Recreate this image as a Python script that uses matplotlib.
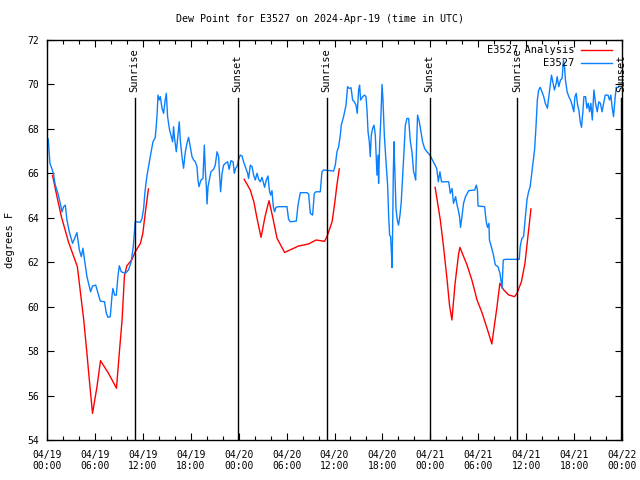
import numpy as np
import matplotlib
matplotlib.use("Agg")
import matplotlib.pyplot as plt
import matplotlib.dates as mdates

plt.rcParams['font.family'] = ['DejaVu Sans Mono']
plt.rcParams['font.size'] = 7

start = np.datetime64('2024-04-19T00:00')

# station observations (hours since start, degrees F)
obs_hours = [0.15, 0.37, 0.62, 0.79, 1.04, 1.37, 1.66, 1.88, 2.08, 2.29, 2.5, 2.79, 3.2, 3.54, 3.75,
             4.05, 4.3, 4.5, 4.7, 5.0, 5.3, 5.46, 5.7, 6.1, 6.67, 7.2, 7.43, 7.63, 7.92, 8.13, 8.25,
             8.47, 8.68, 8.88, 9.05, 9.3, 9.8, 10.2, 10.55, 10.8, 10.93, 11.05, 11.68, 11.9, 12.1,
             12.27, 12.5, 12.93, 13.27, 13.56, 13.77, 13.9, 14.06, 14.19, 14.4, 14.6, 14.8, 14.94,
             15.1, 15.35, 15.56, 15.73, 15.85, 15.97, 16.19, 16.4, 16.56, 16.69, 16.9, 17.1, 17.32,
             17.53, 17.73, 17.94, 18.16, 18.36, 18.57, 18.78, 18.9, 19.03, 19.28, 19.53, 19.7, 19.82,
             19.95, 20.04, 20.16, 20.36, 20.53, 20.86, 21.07, 21.29, 21.49, 21.62, 21.74, 21.92,
             22.11, 22.33, 22.62, 22.8, 23.04, 23.3, 23.46, 23.62, 23.79, 24.04, 24.2, 24.42, 24.62,
             24.83, 25.12, 25.24, 25.46, 25.67, 25.87, 26.08, 26.3, 26.5, 26.71, 26.92, 27.25, 27.46,
             27.67, 27.84, 28.0, 28.17, 28.34, 28.5, 28.67, 29.0, 30.05, 30.25, 30.47, 31.22, 31.43,
             31.72, 32.55, 32.76, 32.97, 33.26, 33.47, 33.68, 34.22, 34.43, 34.64, 35.48, 35.89,
             36.1, 36.31, 36.52, 36.73, 36.85, 37.14, 37.44, 37.64, 37.85, 38.07, 38.27, 38.48,
             38.69, 38.85, 39.02, 39.14, 39.27, 39.52, 39.77, 39.94, 40.07, 40.2, 40.36, 40.48,
             40.61, 40.77, 40.95, 41.11, 41.32, 41.45, 41.52, 41.65, 41.82, 41.95, 42.07, 42.24,
             42.45, 42.65, 42.78, 42.9, 43.03, 43.15, 43.2, 43.27, 43.36, 43.45, 43.52, 43.7, 43.86,
             44.02, 44.2, 44.36, 44.52, 44.7, 44.87, 45.07, 45.28, 45.5, 45.7, 45.9, 46.03, 46.16,
             46.28, 46.4, 46.62, 46.83, 47.03, 47.28, 47.58, 47.95, 48.38, 48.8, 49.0, 49.2, 49.4,
             49.6, 50.3, 50.5, 50.72, 50.9, 51.17, 51.3, 51.5, 51.66, 51.78, 51.96, 52.16, 52.4,
             52.8, 53.55, 53.76, 53.9, 53.97, 54.8, 55.0, 55.16, 55.34, 55.4, 55.64, 55.9, 56.14,
             56.47, 56.72, 56.98, 57.13, 57.38, 59.13, 59.25, 59.46, 59.67, 59.85, 60.1, 60.3, 60.5,
             60.65, 60.8, 61.05, 61.23, 61.4, 61.56, 61.77, 61.98, 62.2, 62.4, 62.66, 62.83, 63.04,
             63.17, 63.33, 63.54, 63.76, 63.88, 64.08, 64.3, 64.5, 64.67, 64.8, 64.92, 65.13, 65.34,
             65.55, 65.76, 65.97, 66.1, 66.27, 66.44, 66.6, 66.77, 66.93, 67.1, 67.23, 67.44, 67.6,
             67.77, 67.94, 68.1, 68.28, 68.48, 68.69, 68.9, 69.1, 69.3, 69.5, 69.7, 69.9, 70.24,
             70.44, 70.6, 70.78, 70.94, 71.15, 71.28, 71.57]
obs_vals = [67.55, 66.45, 66.2, 66.0, 65.47, 65.1, 64.65, 64.27, 64.5, 64.57, 63.9, 63.37, 62.85, 63.15,
            63.33, 62.55, 62.25, 62.63, 62.1, 61.35, 60.9, 60.67, 60.93, 60.97, 60.25, 60.22, 59.7,
            59.52, 59.55, 60.45, 60.82, 60.52, 60.52, 61.35, 61.84, 61.57, 61.5, 61.65, 62.03, 62.7,
            63.3, 63.82, 63.8, 63.97, 64.43, 65.17, 65.85, 66.75, 67.42, 67.62, 68.55, 69.52, 69.3,
            69.45, 68.93, 68.7, 69.3, 69.6, 68.55, 67.95, 67.65, 67.42, 68.1, 67.58, 66.97, 67.72,
            68.32, 67.5, 66.75, 66.23, 66.97, 67.35, 67.62, 67.2, 66.75, 66.6, 66.52, 66.3, 65.7,
            65.4, 65.7, 65.77, 67.27, 66.15, 65.4, 64.62, 65.4, 65.77, 66.07, 66.18, 66.37, 66.97,
            66.75, 65.85, 65.17, 66.0, 66.37, 66.45, 66.52, 66.18, 66.57, 66.52, 66.0, 66.23, 66.3,
            66.68, 66.82, 66.78, 66.52, 66.3, 66.0, 65.77, 66.37, 66.3, 65.92, 65.7, 66.0, 65.73,
            65.62, 65.82, 65.37, 65.7, 65.88, 65.25, 65.02, 65.22, 64.5, 64.27, 64.47, 64.5, 64.5,
            63.93, 63.82, 63.85, 64.57, 65.13, 65.13, 65.07, 64.2, 64.12, 65.1, 65.17, 65.17, 66.07,
            66.15, 66.12, 66.1, 66.37, 66.97, 67.2, 67.72, 68.17, 68.55, 69.07, 69.9, 69.82, 69.85,
            69.3, 69.22, 69.07, 68.7, 69.75, 69.97, 69.3, 69.45, 69.52, 69.45, 68.85, 67.87, 67.42,
            66.75, 67.72, 68.02, 68.17, 67.72, 65.92, 66.82, 65.55, 67.27, 68.62, 70.0, 69.3, 67.72,
            66.52, 65.47, 64.12, 63.22, 63.15, 62.25, 61.76, 63.22, 65.92, 67.42, 66.52, 64.42,
            63.9, 63.67, 64.12, 64.72, 65.77, 66.97, 68.17, 68.47, 68.47, 67.42, 66.97, 66.07,
            65.92, 65.7, 67.27, 68.62, 68.32, 67.87, 67.42, 67.12, 66.97, 66.82, 66.52, 66.22,
            65.62, 66.07, 65.62, 65.62, 65.62, 65.1, 65.32, 64.65, 64.95, 64.65, 64.35, 64.05,
            63.57, 64.05, 64.65, 64.95, 65.22, 65.25, 65.47, 65.25, 64.53, 64.5, 63.82, 63.57,
            63.75, 63.0, 62.7, 62.33, 61.88, 61.8, 61.5, 60.83, 62.1, 62.13, 62.13, 62.7, 63.07,
            63.15, 63.82, 64.8, 65.17, 65.4, 65.85, 66.3, 67.05, 68.1, 69.3, 69.75, 69.87, 69.67,
            69.45, 69.15, 68.93, 69.45, 70.05, 70.42, 70.12, 69.75, 70.05, 70.35, 69.9, 70.2, 70.27,
            71.1, 70.8, 70.2, 69.67, 69.45, 69.3, 69.07, 68.77, 69.45, 69.6, 69.07, 68.85, 68.32,
            68.07, 68.77, 69.45, 69.45, 68.93, 69.15, 68.77, 69.15, 68.4, 69.75, 69.15, 68.77,
            69.22, 69.15, 68.77, 69.15, 69.52, 69.52, 69.3, 69.52, 68.93, 68.55, 69.45, 69.87,
            69.87]

# analysis series, nan separates the three runs
ana_hours = [0.7, 1.25, 1.8, 2.7, 3.5, 3.8, 4.2, 4.6, 5.0, 5.3, 5.7, 6.26, 6.7, 7.7, 8.7, 9.05, 9.4,
             9.7, 10.0, 10.6, 11.05, 11.7, 12.0, 12.3, 12.7, np.nan,
             24.7, 25.45, 25.9, 26.3, 26.8, 27.3, 27.8, 28.25, 28.8, 29.75, 31.5, 32.75, 33.7,
             34.75, 35.05, 35.7, 36.05, 36.3, 36.6, np.nan,
             48.6, 49.25, 49.65, 50.1, 50.4, 50.7, 51.1, 51.55, 51.7, 52.6, 53.2, 53.85, 54.5,
             55.3, 55.7, 56.0, 56.35, 56.7, 57.2, 57.8, 58.55, 58.85, 59.4, 59.85, 60.6]
ana_vals = [65.9, 64.95, 64.05, 62.9, 62.1, 61.8, 60.6, 59.4, 57.9, 56.7, 55.2, 56.4, 57.57, 57.0,
            56.33, 57.9, 59.4, 61.4, 61.84, 62.1, 62.47, 62.85, 63.3, 64.2, 65.3, np.nan,
            65.73, 65.25, 64.72, 63.97, 63.12, 64.05, 64.77, 64.05, 63.08, 62.44, 62.73, 62.82,
            63.0, 62.94, 63.15, 63.82, 64.72, 65.47, 66.2, np.nan,
            65.37, 63.9, 62.7, 61.2, 60.07, 59.4, 61.05, 62.4, 62.67, 61.87, 61.2, 60.3, 59.7,
            58.8, 58.32, 59.1, 60.0, 61.05, 60.75, 60.53, 60.45, 60.6, 61.12, 61.95, 64.4]

sun_hours = [10.97, 23.86, 35.0, 47.9, 58.9, 71.9]
sun_labels = ["Sunrise", "Sunset", "Sunrise", "Sunset", "Sunrise", "Sunset"]


def to_time(hours):
    secs = np.round(np.nan_to_num(np.asarray(hours, dtype=float), nan=0) * 3600).astype(int)
    t = start + secs.astype('timedelta64[s]')
    t = t.astype('datetime64[s]').astype(object)
    return t


fig = plt.figure(figsize=(6.4, 4.8), dpi=100)
ax = fig.add_axes([47 / 640, 40 / 480, 575 / 640, 400 / 480])

obs_t = to_time(obs_hours)
ana_t = mdates.date2num(to_time(ana_hours))
ana_t = np.where(np.isnan(ana_hours), np.nan, ana_t)

ax.plot(ana_t, ana_vals, color='#ff0000', lw=1.0, label='E3527 Analysis')
ax.plot(obs_t, obs_vals, color='#0a80ff', lw=1.0, label='E3527')

ax.set_xlim(mdates.date2num(start.astype(object)), mdates.date2num((start + np.timedelta64(72, 'h')).astype(object)))
ax.set_ylim(54, 72)

for h, lab in zip(sun_hours, sun_labels):
    x = mdates.date2num(to_time([h])[0])
    ax.plot([x, x], [54, 69.4], color='black', lw=1.0)
    ax.text(x, 69.65, lab, rotation=90, ha='center', va='bottom', fontsize=7.5)

ax.xaxis.set_major_locator(mdates.HourLocator(byhour=[0, 6, 12, 18]))
ax.xaxis.set_minor_locator(mdates.HourLocator(interval=2))
ax.xaxis.set_major_formatter(mdates.DateFormatter('%m/%d\n%H:%M'))
ax.set_yticks(np.arange(54, 73, 2))

ax.tick_params(axis='both', which='both', direction='in', top=True, right=True, labelsize=7)
ax.tick_params(axis='both', which='major', length=5, width=0.8)
ax.tick_params(axis='x', which='minor', length=3, width=0.8)
ax.tick_params(axis='x', pad=7)
ax.tick_params(axis='y', pad=6)
for s in ax.spines.values():
    s.set_linewidth(1.0)

ax.legend(loc='upper right', bbox_to_anchor=(0.995, 1.005), frameon=False, markerfirst=False,
          handlelength=3.0, handletextpad=0.6, labelspacing=0.3, borderpad=0.2, fontsize=7.5)

fig.text(0.5, 1 - 19 / 480, 'Dew Point for E3527 on 2024-Apr-19 (time in UTC)', ha='center', va='center', fontsize=7.2)
fig.text(10 / 640, 0.5, 'degrees F', rotation=90, ha='center', va='center', fontsize=7.5)

fig.savefig('out.png', dpi=100)
